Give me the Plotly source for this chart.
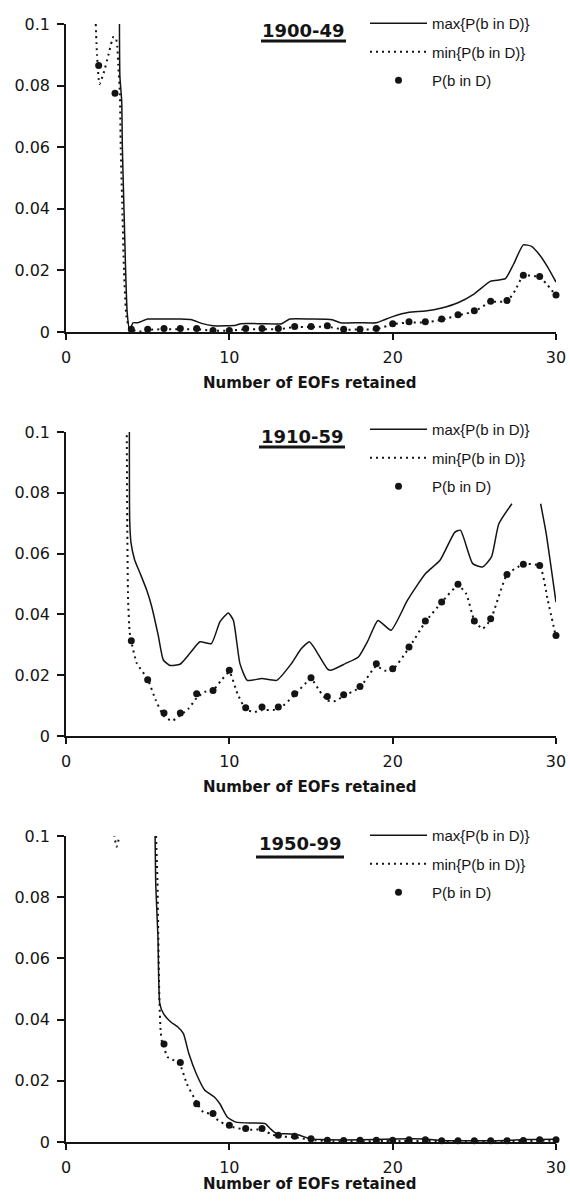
import plotly.graph_objects as go

W, H = 570, 1202
ML, MR = 66, 14
PW = W - ML - MR  # plot width in px

# ---------------- data ----------------
eofs_1 = list(range(2, 31))
p_1 = [0.0865, 0.0775, 0.0009, 0.0009, 0.0011, 0.0011, 0.0011, 0.0005, 0.0005,
       0.0011, 0.0011, 0.0011, 0.0018, 0.0018, 0.0020, 0.0009, 0.0009, 0.0011,
       0.0027, 0.0033, 0.0033, 0.0042, 0.0056, 0.0069, 0.0100, 0.0102, 0.0184,
       0.0180, 0.0120]
max_1_x = [3.27, 3.3, 3.41, 3.45, 3.55, 3.65, 3.75, 3.9, 4.1, 4.4, 5.0, 6.0, 7.0,
           7.7, 8.3, 9.0, 9.8, 10.4, 10.7, 12.0, 13.2, 13.7, 15.0, 16.3, 16.8,
           18.0, 19.0, 19.5, 20.0, 21.0, 22.0, 23.0, 24.0, 25.0, 26.0, 26.9,
           27.4, 28.0, 28.5, 29.0, 29.5, 30.0]
max_1_y = [0.104, 0.083, 0.075, 0.060, 0.040, 0.020, 0.006, 0.0005, 0.003, 0.003,
           0.0042, 0.0042, 0.0042, 0.0040, 0.0028, 0.0020, 0.0020, 0.0022, 0.0027,
           0.0027, 0.0027, 0.0042, 0.0042, 0.0040, 0.0030, 0.0030, 0.0030, 0.0040,
           0.0050, 0.0064, 0.0068, 0.0078, 0.0095, 0.0124, 0.0165, 0.0173, 0.0220,
           0.0283, 0.0278, 0.0250, 0.0210, 0.0162]
min_1_x = [1.82, 1.9, 2.05, 2.3, 2.6, 2.9, 3.05, 3.14, 3.2, 3.3, 3.35, 3.45, 3.55,
           3.7, 3.9, 4.5, 5.0, 6.0, 7.0, 8.0, 9.0, 10.0, 11.0, 12.0, 13.0, 14.0,
           15.0, 16.0, 17.0, 18.0, 19.0, 20.0, 21.0, 22.0, 23.0, 24.0, 25.0, 26.0,
           27.0, 27.5, 28.0, 29.0, 30.0]
min_1_y = [0.100, 0.090, 0.0805, 0.084, 0.090, 0.0958, 0.0955, 0.0926, 0.0866,
           0.0775, 0.060, 0.040, 0.020, 0.005, 0.001, 0.0002, 0.0007, 0.0009,
           0.0009, 0.0009, 0.0004, 0.0004, 0.0009, 0.0009, 0.0009, 0.0016, 0.0016,
           0.0017, 0.0008, 0.0008, 0.0009, 0.0025, 0.0031, 0.0031, 0.0040, 0.0054,
           0.0067, 0.0097, 0.0100, 0.0135, 0.0182, 0.0178, 0.0118]

eofs_2 = list(range(4, 31))
p_2 = [0.0313, 0.0185, 0.0076, 0.0076, 0.0139, 0.0150, 0.0216, 0.0093, 0.0095,
       0.0095, 0.0139, 0.0192, 0.0130, 0.0136, 0.0163, 0.0238, 0.0221, 0.0293,
       0.0378, 0.0441, 0.0499, 0.0378, 0.0386, 0.0531, 0.0565, 0.0561, 0.0331]
max_2_x = [3.88, 3.9, 3.98, 4.2, 4.53, 4.94, 5.25, 5.65, 5.96, 6.37, 6.98, 7.6,
           8.2, 8.9, 9.43, 9.94, 10.25, 10.65, 11.1, 12.0, 12.9, 13.8, 14.4, 14.9,
           15.2, 16.0, 16.2, 17.1, 17.9, 18.5, 19.1, 19.9, 20.9, 22.0, 22.9, 23.8,
           24.15, 24.9, 25.5, 26.05, 26.5, 27.3, None, 29.06, 29.4, 30.0]
max_2_y = [0.101, 0.071, 0.0635, 0.058, 0.0536, 0.048, 0.0425, 0.033, 0.025,
           0.0232, 0.0236, 0.0273, 0.031, 0.0304, 0.0376, 0.0405, 0.038, 0.0238,
           0.0183, 0.0189, 0.0183, 0.0238, 0.0287, 0.031, 0.029, 0.0221, 0.0216,
           0.0238, 0.026, 0.0315, 0.038, 0.0348, 0.0446, 0.0534, 0.0578, 0.067,
           0.0677, 0.0567, 0.0556, 0.0589, 0.0698, 0.0764, None, 0.0764, 0.0666,
           0.0440]
min_2_x = [3.72, 3.75, 3.8, 3.9, 4.0, 4.33, 5.0, 5.5, 6.0, 6.5, 7.0, 7.5, 8.0,
           8.5, 9.0, 9.5, 10.0, 10.5, 11.0, 11.5, 12.0, 13.0, 14.0, 15.0, 15.5,
           16.0, 16.5, 17.0, 18.0, 19.0, 19.5, 20.0, 21.0, 22.0, 23.0, 24.0,
           24.5, 25.0, 25.5, 26.0, 27.0, 28.0, 29.0, 29.5, 30.0]
min_2_y = [0.101, 0.070, 0.045, 0.034, 0.031, 0.024, 0.0187, 0.0117, 0.0065,
           0.0050, 0.0068, 0.0090, 0.0125, 0.0145, 0.0150, 0.0183, 0.0210, 0.0139,
           0.0088, 0.0079, 0.0085, 0.0088, 0.0135, 0.0188, 0.0150, 0.0117, 0.0115,
           0.0132, 0.0160, 0.0230, 0.0215, 0.0218, 0.0290, 0.0375, 0.0440, 0.0495,
           0.0468, 0.0380, 0.0353, 0.0383, 0.0530, 0.0565, 0.0560, 0.0446, 0.0325]

eofs_3 = list(range(6, 31))
p_3 = [0.0320, 0.0260, 0.0125, 0.0093, 0.0055, 0.0044, 0.0044, 0.0022, 0.0019,
       0.0011, 0.0006, 0.0005, 0.0006, 0.0006, 0.0006, 0.0007, 0.0007, 0.0004,
       0.0004, 0.0004, 0.0004, 0.0004, 0.0005, 0.0007, 0.0007]
max_3_x = [5.45, 5.5, 5.63, 5.74, 5.96, 6.4, 6.85, 7.19, 7.52, 7.97, 8.5, 9.08,
           9.42, 9.87, 10.4, 11.5, 12.2, 12.5, 12.9, 13.5, 14.2, 14.9, 15.6, 18.0,
           20.0, 22.0, 23.0, 27.0, 28.0, 30.0]
max_3_y = [0.102, 0.0834, 0.067, 0.0453, 0.042, 0.0393, 0.0376, 0.0354, 0.0289,
           0.0224, 0.0169, 0.0147, 0.0125, 0.0082, 0.0065, 0.0062, 0.0060, 0.0044,
           0.0027, 0.0027, 0.0024, 0.0011, 0.0008, 0.0007, 0.0010, 0.0010, 0.0005,
           0.0005, 0.0008, 0.0009]
min_3_x = [2.95, 3.1, 3.35, None, 5.5, 5.6, 5.65, 5.72, 5.8, 5.9, 6.0, 6.2, 6.6,
           7.0, 7.4, 8.0, 8.4, 9.0, 9.3, 10.0, 11.0, 12.0, 12.5, 13.0, 14.0, 15.0,
           16.0, 20.0, 25.0, 30.0]
min_3_y = [0.1005, 0.0965, 0.102, None, 0.102, 0.085, 0.068, 0.046, 0.036, 0.032,
           0.031, 0.0278, 0.0267, 0.025, 0.019, 0.013, 0.0098, 0.009, 0.0071,
           0.0052, 0.0040, 0.0040, 0.0027, 0.0018, 0.0016, 0.0007, 0.0003, 0.0003,
           0.0003, 0.0004]

period_labels = ["1900-49", "1910-59", "1950-99"]
legend_names = ["max{P(b in D)}", "min{P(b in D)}", "P(b in D)"]
x_ticks = [0, 10, 20, 30]
y_ticks = [0, 0.02, 0.04, 0.06, 0.08, 0.1]
y_tick_text = ["0", "0.02", "0.04", "0.06", "0.08", "0.1"]
x_title = "Number of EOFs retained"

panels = [
    dict(p_x=eofs_1, p_y=p_1, max_x=max_1_x, max_y=max_1_y, min_x=min_1_x, min_y=min_1_y,
         top=24, bottom=332, title_c=(303, 31), ul_y=41, ul=(261, 346), xt_y=383, leg_top=7),
    dict(p_x=eofs_2, p_y=p_2, max_x=max_2_x, max_y=max_2_y, min_x=min_2_x, min_y=min_2_y,
         top=432, bottom=736, title_c=(302, 436), ul_y=447, ul=(259, 345), xt_y=787, leg_top=413),
    dict(p_x=eofs_3, p_y=p_3, max_x=max_3_x, max_y=max_3_y, min_x=min_3_x, min_y=min_3_y,
         top=836, bottom=1142, title_c=(300, 843), ul_y=857, ul=(256, 344), xt_y=1184, leg_top=819),
]

INK = "#141414"

def py(px):
    return 1 - px / H

def pxx(px):
    return (px - ML) / PW

fig = go.Figure()
layout = dict(
    width=W, height=H,
    margin=dict(l=ML, r=MR, t=0, b=0, pad=0, autoexpand=False),
    paper_bgcolor="white", plot_bgcolor="white",
    font=dict(family="DejaVu Sans", color=INK),
    annotations=[], shapes=[],
)

for i, p in enumerate(panels):
    k = i + 1
    sfx = "" if k == 1 else str(k)
    xa, ya = "x" + sfx, "y" + sfx
    leg = "legend" + sfx

    fig.add_trace(go.Scatter(
        x=p["max_x"], y=p["max_y"], mode="lines", name=legend_names[0],
        line=dict(color=INK, width=1.5, shape="spline", smoothing=0.5),
        xaxis=xa, yaxis=ya, legend=leg, legendgroup=f"a{k}", connectgaps=False,
    ))
    fig.add_trace(go.Scatter(
        x=p["min_x"], y=p["min_y"], mode="lines", name=legend_names[1],
        line=dict(color=INK, width=2, dash="2px,4px", shape="spline", smoothing=0.5),
        xaxis=xa, yaxis=ya, legend=leg, legendgroup=f"b{k}", connectgaps=False,
    ))
    fig.add_trace(go.Scatter(
        x=p["p_x"], y=p["p_y"], mode="markers", name=legend_names[2],
        marker=dict(color=INK, size=7), cliponaxis=False,
        xaxis=xa, yaxis=ya, legend=leg, legendgroup=f"c{k}",
    ))

    layout["xaxis" + sfx] = dict(
        domain=[0, 1], anchor=ya, range=[0, 30], tickvals=x_ticks,
        showline=True, linecolor=INK, linewidth=1.5, ticks="outside", ticklen=6,
        tickwidth=1.5, tickcolor=INK, showgrid=False, zeroline=False, automargin=False,
        tickfont=dict(family="DejaVu Sans", size=16, color=INK), ticklabelstandoff=4,
    )
    layout["yaxis" + sfx] = dict(
        domain=[py(p["bottom"]), py(p["top"])], anchor=xa, range=[0, 0.1],
        tickvals=y_ticks, ticktext=y_tick_text, automargin=False,
        showline=True, linecolor=INK, linewidth=1.5, ticks="outside", ticklen=7,
        tickwidth=1.5, tickcolor=INK, showgrid=False, zeroline=False,
        tickfont=dict(family="DejaVu Sans", size=16, color=INK), ticklabelstandoff=4,
    )
    layout[leg] = dict(
        x=pxx(365), y=py(p["leg_top"]), xanchor="left", yanchor="top",
        bgcolor="white", borderwidth=0, itemwidth=57,
        font=dict(family="Liberation Sans", size=15, color=INK),
        traceorder="grouped", tracegroupgap=6,
    )
    tx, ty = p["title_c"]
    layout["annotations"].append(dict(
        text="<b>" + period_labels[i] + "</b>", x=pxx(tx), y=py(ty), xref="paper", yref="paper",
        xanchor="center", yanchor="middle", showarrow=False,
        font=dict(family="DejaVu Sans", size=18, color=INK),
    ))
    layout["shapes"].append(dict(
        type="line", xref="paper", yref="paper",
        x0=pxx(p["ul"][0]), x1=pxx(p["ul"][1]), y0=py(p["ul_y"]), y1=py(p["ul_y"]),
        line=dict(color=INK, width=3),
    ))
    layout["annotations"].append(dict(
        text="<b>" + x_title + "</b>", x=pxx(309), y=py(p["xt_y"]), xref="paper", yref="paper",
        xanchor="center", yanchor="middle", showarrow=False,
        font=dict(family="DejaVu Sans", size=15, color=INK),
    ))

fig.update_layout(**layout)
fig.write_html("out.html")
